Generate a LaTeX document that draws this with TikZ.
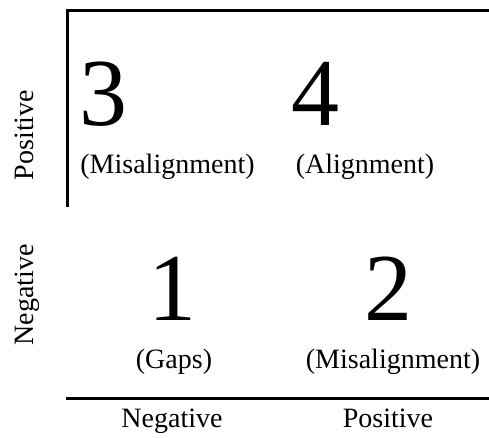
\documentclass[tikz,border=0pt]{standalone}
\usepackage{fontspec}
\setmainfont{Liberation Serif}
\usepackage{tikz}
\usetikzlibrary{calc}
\tikzset{
quadnum/.style = {inner sep=0pt, outer sep=0pt, anchor=base,
                  font=\fontsize{72}{72}\selectfont},
quadtag/.style = {inner sep=0pt, outer sep=0pt, anchor=base,
                  font=\fontsize{21}{24}\selectfont},
axistext/.style = {quadtag},
axisline/.style = {line width=1.9pt}
}
% #1 name, #2 digit position, #3 digit, #4 tag position, #5 tag
\newcommand{\cell}[5]{\node[quadnum] (#1num) at (#2) {#3};
  \node[quadtag] (#1tag) at (#4) {#5};}

\begin{document}
\begin{tikzpicture}[x=0.75pt, y=-0.75pt]
        \useasboundingbox (0,0) rectangle (489,437);
        \coordinate (vbot) at (67.5,207);
        \coordinate (corner) at (67.5,10.5);
        \coordinate (tright) at (489,10.5);
        \coordinate (bleft) at (66,398.5);
        \coordinate (bright) at (489,398.5);
        \draw[axisline] (vbot) -- (corner) -- (tright);
        \draw[axisline] (bleft) -- (bright);
        \cell{three}{103,125}{3}{167.5,173}{(Misalignment)};
        \cell{four}{315,125}{4}{365,173}{(Alignment)};
        \cell{one}{172,320}{1}{174,368}{(Gaps)};
        \cell{two}{388,320}{2}{393,368}{(Misalignment)};
        \node[axistext] (xneg) at (172,427) {Negative};
        \node[axistext] (xpos) at (388,427) {Positive};
        \node[axistext, rotate=90] (ypos) at (33,135) {Positive};
        \node[axistext, rotate=90] (yneg) at (33,295) {Negative};
        \end{tikzpicture}
\end{document}
